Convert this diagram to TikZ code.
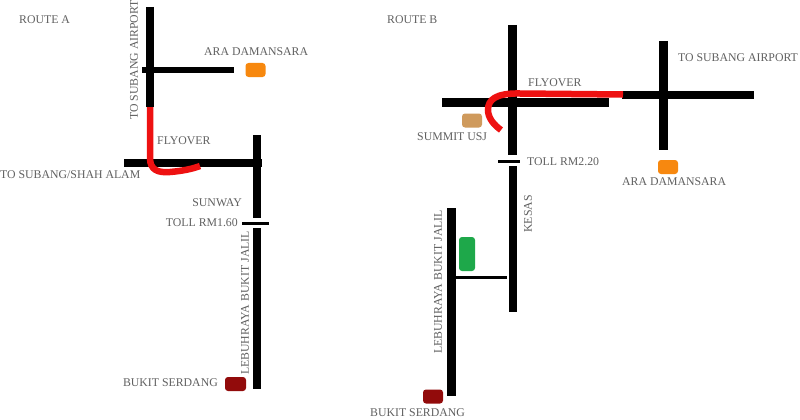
\documentclass[tikz,border=0pt]{standalone}
\usepackage{fontspec}
\setmainfont{Liberation Serif}
\definecolor{txt}{HTML}{606060}
\definecolor{roadred}{HTML}{EE1111}
\definecolor{orng}{HTML}{F7880F}
\definecolor{tan}{HTML}{CF9A5C}
\definecolor{grn}{HTML}{1EA84A}
\definecolor{dred}{HTML}{920B0B}
\begin{document}
\begin{tikzpicture}[x=1pt,y=-1pt,
  lbl/.style={text=txt,font=\fontsize{11.8}{12}\selectfont,inner sep=0pt},
  road/.style={line width=8.5pt,black},
  thinroad/.style={line width=3pt,black},
  fly/.style={line width=6.5pt,roadred,line cap=round},
  place/.style={rounded corners=3pt,minimum width=20pt,minimum height=14pt,inner sep=0pt}]
\useasboundingbox[fill=white] (0,0) rectangle (800,420);
% ---------- Route A ----------
\node[lbl,anchor=west] (ra) at (19,20) {ROUTE A};
\draw[road] (150,7) -- (150,107);
\draw[line width=6.5pt] (142,70) -- (234,70);
\draw[road] (124,163) -- (262,163);
\draw[road] (257,135) -- (257,218);
\draw[thinroad] (242,223) -- (269,223);
\draw[road] (257,228) -- (257,389);
\draw[fly,line cap=butt] (150,107) -- (150,158) .. controls (150,170) and (158,173) .. (170,172) .. controls (182,171) and (192,169) .. (200,166);
\node[place,fill=orng] (araA) at (255.5,70) {};
\node[place,fill=dred,minimum width=21pt] (bsA) at (235.5,384) {};
\node[lbl,anchor=west] (araAt) at (204,52) {ARA DAMANSARA};
\node[lbl,rotate=90] (sbA) at (134,60) {TO SUBANG AIRPORT};
\node[lbl,anchor=west] (flyA) at (157,141) {FLYOVER};
\node[lbl,anchor=west] (shA) at (0,175) {TO SUBANG/SHAH ALAM};
\node[lbl,anchor=east] (sunA) at (242,203) {SUNWAY};
\node[lbl,anchor=east] (tollA) at (238,223) {TOLL RM1.60};
\node[lbl,rotate=90] (lbA) at (245,303) {LEBUHRAYA BUKIT JALIL};
\node[lbl,anchor=east] (bsAt) at (218,383) {BUKIT SERDANG};
% ---------- Route B ----------
\node[lbl,anchor=west] (rb) at (387,20) {ROUTE B};
\draw[road] (442,102.5) -- (609,102.5);
\draw[road] (622,95) -- (754,95);
\draw[road] (512.5,25) -- (512.5,155);
\draw[thinroad] (498,161) -- (520,161);
\draw[road] (513,166) -- (513,312);
\draw[road] (663.5,41) -- (663.5,150);
\draw[road] (451.5,208) -- (451.5,396);
\draw[thinroad] (456,277) -- (507,277);
\draw[fly,line cap=butt] (623,94.5) -- (520,93.5) .. controls (495,93) and (488,100) .. (488,110) .. controls (488,118) and (494,125) .. (501,130);
\node[place,fill=tan] (sm) at (472,120.5) {};
\node[place,fill=orng] (araB) at (668,167) {};
\node[place,fill=grn,minimum width=16pt,minimum height=34pt] (gr) at (467,254) {};
\node[place,fill=dred] (bsB) at (433,396.5) {};
\node[lbl,anchor=west] (sbB) at (678,58) {TO SUBANG AIRPORT};
\node[lbl,anchor=west] (flyB) at (528,83) {FLYOVER};
\node[lbl,anchor=west] (smt) at (417,137) {SUMMIT USJ};
\node[lbl,anchor=west] (tollB) at (527,162) {TOLL RM2.20};
\node[lbl,anchor=west] (araBt) at (622,182) {ARA DAMANSARA};
\node[lbl,rotate=90] (ks) at (528,214) {KESAS};
\node[lbl,rotate=90] (lbB) at (438,282) {LEBUHRAYA BUKIT JALIL};
\node[lbl,anchor=west] (bsBt) at (370,413) {BUKIT SERDANG};
\end{tikzpicture}
\end{document}
